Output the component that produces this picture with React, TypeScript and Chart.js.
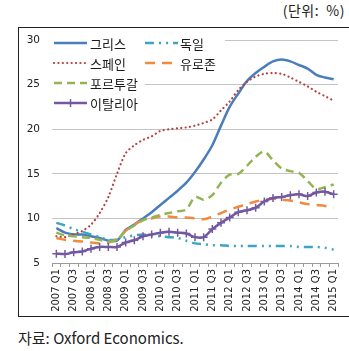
import React, { useEffect, useRef } from "react";
import { Chart, registerables } from "chart.js";

Chart.register(...registerables);

const years = ["2007", "2008", "2009", "2010", "2011", "2012", "2013", "2014", "2015"];
const categories: string[] = [];
years.forEach((y) => {
  ["Q1", "Q2", "Q3", "Q4"].forEach((q) => {
    if (y === "2015" && q !== "Q1") return;
    categories.push(`${y} ${q}`);
  });
});

const seriesNames = ["그리스", "독일", "스페인", "유로존", "포르투갈", "이탈리아"];

const greece = [8.9, 8.4, 8.2, 8.2, 8.0, 7.8, 7.5, 7.5, 8.7, 9.3, 10.0, 10.7, 11.5, 12.3, 13.1, 14.0, 15.2, 16.6, 18.2, 20.4, 22.5, 24.0, 25.4, 26.3, 27.0, 27.6, 27.8, 27.6, 27.2, 26.8, 26.1, 25.8, 25.6];
const germany = [9.5, 9.2, 8.8, 8.5, 8.2, 7.9, 7.6, 7.6, 7.9, 8.1, 8.2, 8.1, 8.0, 7.9, 7.8, 7.5, 7.2, 7.1, 7.0, 7.0, 6.9, 6.9, 6.9, 6.9, 6.9, 6.9, 6.9, 6.9, 6.8, 6.8, 6.8, 6.7, 6.5];
const spain = [8.0, 7.9, 8.2, 8.6, 9.3, 10.6, 12.4, 15.0, 17.3, 18.2, 18.8, 19.2, 19.8, 20.0, 20.1, 20.2, 20.4, 20.7, 21.1, 22.1, 23.1, 24.4, 25.3, 25.9, 26.2, 26.3, 26.2, 25.8, 25.3, 24.8, 24.2, 23.7, 23.2];
const eurozone = [7.8, 7.6, 7.5, 7.4, 7.3, 7.2, 7.3, 7.7, 8.6, 9.3, 9.8, 10.0, 10.2, 10.2, 10.1, 10.1, 10.0, 9.9, 10.2, 10.6, 11.0, 11.3, 11.6, 11.9, 12.1, 12.2, 12.1, 12.0, 11.8, 11.6, 11.5, 11.4, 11.2];
const portugal = [8.4, 8.1, 8.0, 7.9, 7.8, 7.6, 7.4, 7.6, 8.6, 9.2, 9.8, 10.1, 10.4, 10.6, 10.8, 11.0, 12.4, 12.1, 12.6, 14.0, 14.9, 15.0, 15.9, 16.9, 17.5, 16.5, 15.6, 15.3, 15.1, 14.2, 13.3, 13.5, 13.8];
const italy = [6.05, 6.0, 6.2, 6.3, 6.6, 6.8, 6.8, 6.8, 7.3, 7.55, 8.0, 8.2, 8.4, 8.5, 8.4, 8.3, 7.9, 7.9, 8.8, 9.5, 10.1, 10.7, 10.9, 11.2, 11.9, 12.3, 12.4, 12.6, 12.7, 12.5, 12.9, 13.0, 12.7];

const yTicks = [5, 10, 15, 20, 25, 30];

const colors = ["#4a7dbb", "#3aa6c0", "#b8403e", "#f08a3c", "#93b455", "#7258a0"];
const dashes: number[][] = [[], [9, 5, 2, 5, 2, 5], [0.1, 4.3], [10, 7], [8, 5], []];
const widths = [2.5, 2.5, 2.2, 2.5, 2.5, 2.5];
const caps = ["butt", "butt", "round", "butt", "butt", "butt"];

const legendLayout = [
  { i: 0, col: 0, row: 0 },
  { i: 1, col: 1, row: 0 },
  { i: 2, col: 0, row: 1 },
  { i: 3, col: 1, row: 1 },
  { i: 4, col: 0, row: 2 },
  { i: 5, col: 0, row: 3 },
];

const legendPlugin = {
  id: "customLegend",
  afterDraw(chart: any) {
    const ctx = chart.ctx;
    const colLine = [34, 125];
    const colText = [70, 160];
    const colRect = [
      [32, 125],
      [125, 205],
    ];
    const rowY = [14, 34, 54, 74];
    ctx.save();
    legendLayout.forEach(({ col, row }) => {
      ctx.fillStyle = "#ffffff";
      ctx.fillRect(colRect[col][0], rowY[row] - 10, colRect[col][1] - colRect[col][0], 20);
    });
    legendLayout.forEach(({ i, col, row }) => {
      const y = rowY[row];
      const x0 = colLine[col];
      const x1 = x0 + 33;
      ctx.beginPath();
      ctx.strokeStyle = colors[i];
      ctx.lineWidth = widths[i];
      ctx.lineCap = caps[i];
      ctx.setLineDash(dashes[i]);
      ctx.moveTo(x0, y);
      ctx.lineTo(x1, y);
      ctx.stroke();
      ctx.setLineDash([]);
      if (i === 5) {
        const cx = (x0 + x1) / 2;
        ctx.beginPath();
        ctx.lineWidth = 1.5;
        ctx.lineCap = "butt";
        ctx.moveTo(cx, y - 4);
        ctx.lineTo(cx, y + 4);
        ctx.stroke();
      }
      ctx.fillStyle = "#1a1a1a";
      ctx.font = '13px "Noto Sans CJK KR"';
      ctx.textBaseline = "middle";
      ctx.textAlign = "left";
      ctx.fillText(seriesNames[i], colText[col], y + 1);
    });
    ctx.restore();
  },
};

export default function App() {
  const ref = useRef<HTMLCanvasElement>(null);
  useEffect(() => {
    if (!ref.current) return;
    const data = [greece, germany, spain, eurozone, portugal, italy];
    const chart = new Chart(ref.current, {
      type: "line",
      data: {
        labels: categories,
        datasets: data.map((d, i) => ({
          label: seriesNames[i],
          data: d,
          borderColor: colors[i],
          backgroundColor: colors[i],
          borderWidth: widths[i],
          borderDash: dashes[i],
          borderCapStyle: caps[i] as any,
          tension: 0.3,
          pointRadius: i === 5 ? 4 : 0,
          pointStyle: "cross",
          pointBorderWidth: 1.5,
          pointBorderColor: colors[i],
          fill: false,
          order: 5 - i,
        })),
      },
      options: {
        animation: false,
        responsive: false,
        maintainAspectRatio: false,
        events: [],
        layout: { padding: { top: 11, right: 11, left: 0, bottom: 0 } },
        plugins: { legend: { display: false }, tooltip: { enabled: false }, title: { display: false } },
        scales: {
          x: {
            offset: true,
            grid: {
              offset: true,
              drawOnChartArea: false,
              drawTicks: true,
              tickLength: 4,
              color: "#9a9a9a",
            },
            border: { display: true, color: "#9a9a9a" },
            ticks: {
              autoSkip: false,
              maxRotation: 90,
              minRotation: 90,
              padding: 2,
              color: "#222",
              font: { family: "DejaVu Sans", size: 10 },
              callback: (_v: any, idx: number) => (idx % 2 === 0 ? categories[idx] : ""),
            },
            afterFit: (s: any) => {
              s.height = 54;
              s.paddingLeft = 0;
              s.paddingRight = 0;
            },
          },
          y: {
            min: 5,
            max: 30,
            afterBuildTicks: (s: any) => {
              s.ticks = yTicks.map((v) => ({ value: v }));
            },
            grid: { color: "#c4c4c4", drawTicks: false, lineWidth: 1 },
            border: { display: false },
            ticks: {
              padding: 12,
              color: "#222",
              font: { family: "DejaVu Sans", size: 10.5 },
            },
            afterFit: (s: any) => {
              s.width = 32;
              s.paddingTop = 0;
              s.paddingBottom = 0;
            },
          },
        },
      },
      plugins: [legendPlugin],
    });
    return () => chart.destroy();
  }, []);

  return (
    <div style={{ position: "absolute", left: 0, top: 0, width: 349, height: 351, overflow: "hidden", background: "#fff" }}>
      <div
        style={{
          position: "absolute",
          right: 4,
          top: 0,
          font: '14px "Noto Sans CJK KR"',
          color: "#222",
          lineHeight: "20px",
          letterSpacing: "0.5px",
          whiteSpace: "pre",
        }}
      >
        (단위:  %)
      </div>
      <div
        style={{
          position: "absolute",
          left: 18,
          top: 27,
          width: 331,
          height: 290,
          borderTop: "1.5px solid #222",
          borderLeft: "1.5px solid #222",
          borderBottom: "1.5px solid #222",
          boxSizing: "border-box",
        }}
      />
      <canvas ref={ref} width={329} height={288} style={{ position: "absolute", left: 20, top: 29, width: 329, height: 288 }} />
      <div
        style={{
          position: "absolute",
          left: 18,
          top: 327,
          font: '15px "Noto Sans CJK KR"',
          color: "#222",
          lineHeight: "22px",
          whiteSpace: "nowrap",
        }}
      >
        자료: Oxford Economics.
      </div>
    </div>
  );
}
